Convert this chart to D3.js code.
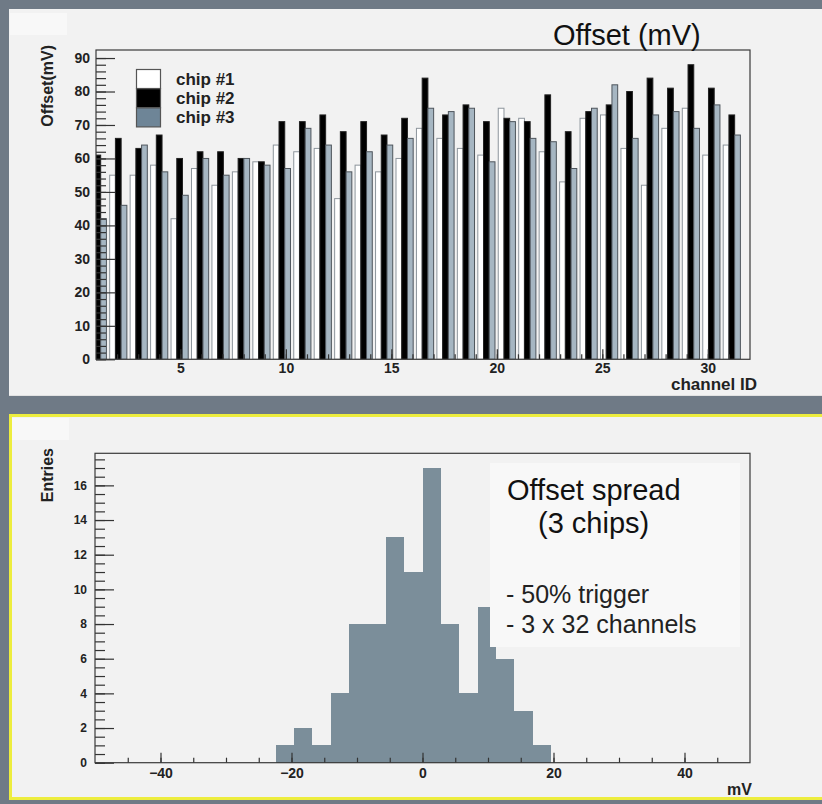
<!DOCTYPE html>
<html>
<head>
<meta charset="utf-8">
<script src="https://cdn.jsdelivr.net/npm/d3@7"></script>
<style>
  body { margin: 0; background: #6f7a86; }
  svg { display: block; font-family: "Liberation Sans", Arial, sans-serif; }
  .tick text { font-weight: bold; fill: #222; }
  .tick line { stroke: #333; stroke-width: 1.2; }
</style>
</head>
<body>
<svg id="chart" width="822" height="804"></svg>
<script>
/* DATA */
// offset per channel for the three chips (mV); chip #1 channel 1 is off the frame
const channels = [1, 2, 3, 4, 5, 6, 7, 8, 9, 10, 11, 12, 13, 14, 15, 16,
                  17, 18, 19, 20, 21, 22, 23, 24, 25, 26, 27, 28, 29, 30, 31, 32];
const chip1 = [null, 55, 55, 58, 42, 57, 52, 56, 59, 64, 62, 63, 48, 58, 56, 60,
               69, 66, 63, 61, 75, 72, 62, 53, 72, 73, 63, 52, 69, 75, 61, 64];
const chip2 = [61, 66, 63, 67, 60, 62, 62, 60, 59, 71, 71, 73, 68, 71, 67, 72,
               84, 73, 76, 71, 72, 71, 79, 68, 74, 76, 80, 84, 81, 88, 81, 73];
const chip3 = [42, 46, 64, 56, 49, 60, 55, 60, 58, 57, 69, 64, 56, 62, 64, 66,
               75, 74, 75, 59, 71, 66, 65, 57, 75, 82, 66, 73, 74, 69, 76, 67];
const chipNames = ["chip #1", "chip #2", "chip #3"];
const offsetTicks = [5, 10, 15, 20, 25, 30];

// offset spread histogram (bin low edges in mV, entries)
const spreadLow = [-22.4, -19.6, -16.8, -14, -11.2, -8.4, -5.6, -2.8,
                   0, 2.8, 5.6, 8.4, 11.2, 14, 16.8];
const spreadCounts = [1, 2, 1, 4, 8, 8, 13, 11, 17, 8, 4, 9, 6, 3, 1];
const binWidth = 2.8;
const spreadTicks = [-40, -20, 0, 20, 40];

const svg = d3.select("#chart");

// PADS
svg.append("rect").attr("x", 9).attr("y", 9).attr("width", 813).attr("height", 387)
    .attr("fill", "#f2f2f2");
svg.append("line").attr("x1", 9).attr("x2", 822).attr("y1", 395.5).attr("y2", 395.5)
    .attr("stroke", "#e2e2e2");
svg.append("rect").attr("x", 10).attr("y", 13).attr("width", 57).attr("height", 22)
    .attr("fill", "#f8f8f8");

svg.append("rect").attr("x", 10.5).attr("y", 415.5).attr("width", 815).attr("height", 383)
    .attr("fill", "#f2f2f2").attr("stroke", "#eded3e").attr("stroke-width", 3);
svg.append("rect").attr("x", 12).attr("y", 418).attr("width", 57).attr("height", 22)
    .attr("fill", "#f8f8f8");

/* TOP: OFFSET PER CHANNEL */
const f1 = { left: 96, right: 750, top: 50, bottom: 359.3 };
const allOffsets = chip1.concat(chip2, chip3).filter(d => d != null);

const x1 = d3.scaleLinear().domain([1, 32]).range([f1.left, f1.right]);
const y1 = d3.scaleLinear().domain([0, d3.max(allOffsets) * 1.05]).range([f1.bottom, f1.top]);
const band = d3.scaleBand().domain(channels).range([x1(0.66), x1(31.68)]);

svg.append("clipPath").attr("id", "clip1").append("rect")
    .attr("x", f1.left).attr("y", f1.top)
    .attr("width", f1.right - f1.left).attr("height", f1.bottom - f1.top);

const series = [
  { name: chipNames[0], values: chip1, off: 0.02, fill: "#ffffff", stroke: "#8d959c" },
  { name: chipNames[1], values: chip2, off: 0.30, fill: "#000000", stroke: "#222222" },
  { name: chipNames[2], values: chip3, off: 0.58, fill: "#a6b6c2", stroke: "#4e555c" }
];

const barG = svg.append("g").attr("clip-path", "url(#clip1)");
series.forEach(s => {
  barG.selectAll(null)
    .data(channels.map((c, i) => ({ c, v: s.values[i] })).filter(d => d.v != null))
    .join("rect")
    .attr("x", d => band(d.c) + s.off * band.bandwidth())
    .attr("width", 0.28 * band.bandwidth())
    .attr("y", d => y1(d.v))
    .attr("height", d => y1(0) - y1(d.v))
    .attr("fill", s.fill)
    .attr("stroke", s.stroke)
    .attr("stroke-width", 1);
});

// axes (ticks drawn inwards)
svg.append("g").attr("transform", `translate(${f1.left},0)`)
    .call(d3.axisLeft(y1).tickValues(d3.range(0, 91, 10)).tickSize(-19).tickPadding(6))
    .call(g => g.select(".domain").remove())
    .selectAll("text").attr("font-size", 14);
svg.append("g").attr("transform", `translate(${f1.left},0)`)
    .call(d3.axisLeft(y1).tickValues(d3.range(0, 92, 2)).tickSize(-10).tickFormat(""))
    .call(g => g.select(".domain").remove());

svg.append("g").attr("transform", `translate(0,${f1.bottom})`)
    .call(d3.axisBottom(x1).tickValues(offsetTicks).tickSize(-10).tickPadding(4))
    .call(g => g.select(".domain").remove())
    .selectAll("text").attr("font-size", 14);
svg.append("g").attr("transform", `translate(0,${f1.bottom})`)
    .call(d3.axisBottom(x1).tickValues(d3.range(2, 32, 1)).tickSize(-5).tickFormat(""))
    .call(g => g.select(".domain").remove());

svg.append("rect").attr("x", f1.left).attr("y", f1.top)
    .attr("width", f1.right - f1.left).attr("height", f1.bottom - f1.top)
    .attr("fill", "none").attr("stroke", "#3a3a3a").attr("stroke-width", 1.2);

// labels
svg.append("text").attr("x", 553).attr("y", 45).attr("font-size", 29).attr("fill", "#111")
    .text("Offset (mV)");
svg.append("text").attr("transform", "translate(53,45) rotate(-90)")
    .attr("text-anchor", "end").attr("font-size", 16).attr("font-weight", "bold").attr("fill", "#222")
    .text("Offset(mV)");
svg.append("text").attr("x", 757).attr("y", 390).attr("text-anchor", "end")
    .attr("font-size", 17).attr("font-weight", "bold").attr("fill", "#222")
    .text("channel ID");

// legend
const legend = svg.append("g").attr("transform", "translate(136,69)");
series.forEach((s, i) => {
  legend.append("rect").attr("x", 0.5).attr("y", i * 19.2 + 0.5).attr("width", 24).attr("height", 19)
    .attr("fill", i === 2 ? "#6e8597" : s.fill).attr("stroke", "#555").attr("stroke-width", 1.2);
  legend.append("text").attr("x", 40).attr("y", i * 19.2 + 10).attr("dy", "0.35em")
    .attr("font-size", 17).attr("font-weight", "bold").attr("fill", "#222")
    .text(s.name);
});

/* BOTTOM: OFFSET SPREAD */
const f2 = { left: 95, right: 750, top: 453.3, bottom: 762.7 };
const x2 = d3.scaleLinear().domain([-50, 50]).range([f2.left, f2.right]);
const y2 = d3.scaleLinear().domain([0, d3.max(spreadCounts) * 1.05]).range([f2.bottom, f2.top]);

svg.append("g").attr("shape-rendering", "crispEdges").selectAll("rect")
    .data(spreadLow.map((lo, i) => ({ lo, n: spreadCounts[i] })))
    .join("rect")
    .attr("x", d => Math.round(x2(d.lo)))
    .attr("width", d => Math.round(x2(d.lo + binWidth)) - Math.round(x2(d.lo)))
    .attr("y", d => y2(d.n))
    .attr("height", d => y2(0) - y2(d.n))
    .attr("fill", "#7b8e9a");

svg.append("g").attr("transform", `translate(${f2.left},0)`)
    .call(d3.axisLeft(y2).tickValues(d3.range(0, 17, 2)).tickSize(-19).tickPadding(8))
    .call(g => g.select(".domain").remove())
    .selectAll("text").attr("font-size", 12);
svg.append("g").attr("transform", `translate(${f2.left},0)`)
    .call(d3.axisLeft(y2).tickValues(d3.range(0, 17.9, 0.5)).tickSize(-10).tickFormat(""))
    .call(g => g.select(".domain").remove());

svg.append("g").attr("transform", `translate(0,${f2.bottom})`)
    .call(d3.axisBottom(x2).tickValues(spreadTicks).tickSize(-10).tickPadding(5))
    .call(g => g.select(".domain").remove())
    .selectAll("text").attr("font-size", 14);
svg.append("g").attr("transform", `translate(0,${f2.bottom})`)
    .call(d3.axisBottom(x2).tickValues(d3.range(-45, 50, 5)).tickSize(-5).tickFormat(""))
    .call(g => g.select(".domain").remove());

// text box
svg.append("rect").attr("x", 490).attr("y", 463).attr("width", 250).attr("height", 184)
    .attr("fill", "#f8f8f8");
const note = svg.append("g").attr("fill", "#111");
note.append("text").attr("x", 507).attr("y", 500).attr("font-size", 29).text("Offset spread");
note.append("text").attr("x", 538).attr("y", 533).attr("font-size", 29).text("(3 chips)");
note.append("text").attr("x", 506).attr("y", 603).attr("font-size", 25).attr("fill", "#222").text("- 50% trigger");
note.append("text").attr("x", 506).attr("y", 633).attr("font-size", 25).attr("fill", "#222").text("- 3 x 32 channels");

svg.append("rect").attr("x", f2.left).attr("y", f2.top)
    .attr("width", f2.right - f2.left).attr("height", f2.bottom - f2.top)
    .attr("fill", "none").attr("stroke", "#3a3a3a").attr("stroke-width", 1.2);

svg.append("text").attr("transform", "translate(53,448) rotate(-90)")
    .attr("text-anchor", "end").attr("font-size", 16).attr("font-weight", "bold").attr("fill", "#222")
    .text("Entries");
svg.append("text").attr("x", 752).attr("y", 795).attr("text-anchor", "end")
    .attr("font-size", 16).attr("font-weight", "bold").attr("fill", "#222")
    .text("mV");
</script>
</body>
</html>
